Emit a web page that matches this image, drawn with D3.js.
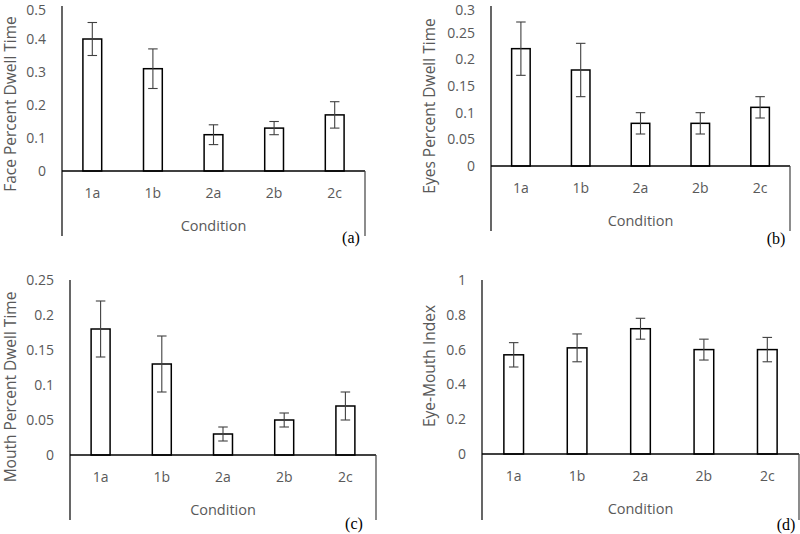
<!DOCTYPE html>
<html>
<head>
<meta charset="utf-8">
<script src="https://cdn.jsdelivr.net/npm/d3@7"></script>
<style>
  html, body { margin: 0; padding: 0; background: #fff; }
  svg { display: block; }
</style>
</head>
<body>
<svg id="chart" width="800" height="534"></svg>
<script>
// ---- data ----
const categories = ["1a", "1b", "2a", "2b", "2c"];

const faceValues = [0.40, 0.31, 0.11, 0.13, 0.17];
const faceErrors = [0.05, 0.06, 0.03, 0.02, 0.04];
const faceTicks = [0, 0.1, 0.2, 0.3, 0.4, 0.5];

const eyesValues = [0.22, 0.18, 0.08, 0.08, 0.11];
const eyesErrors = [0.05, 0.05, 0.02, 0.02, 0.02];
const eyesTicks = [0, 0.05, 0.1, 0.15, 0.2, 0.25, 0.3];

const mouthValues = [0.18, 0.13, 0.03, 0.05, 0.07];
const mouthErrors = [0.04, 0.04, 0.01, 0.01, 0.02];
const mouthTicks = [0, 0.05, 0.1, 0.15, 0.2, 0.25];

const indexValues = [0.57, 0.61, 0.72, 0.60, 0.60];
const indexErrors = [0.07, 0.08, 0.06, 0.06, 0.07];
const indexTicks = [0, 0.2, 0.4, 0.6, 0.8, 1];

const yTitles = ["Face Percent Dwell Time", "Eyes Percent Dwell Time", "Mouth Percent Dwell Time", "Eye-Mouth Index"];
const xTitle = "Condition";
const panelLabels = ["(a)", "(b)", "(c)", "(d)"];

// ---- layout ----
const panels = [
  { values: faceValues, errors: faceErrors, ticks: faceTicks, title: yTitles[0], label: panelLabels[0],
    x0: 62, x1: 365, yTop: 6, yZero: 171, yBottom: 236, titleX: 10, titleY: 104, labelX: 351, labelY: 238 },
  { values: eyesValues, errors: eyesErrors, ticks: eyesTicks, title: yTitles[1], label: panelLabels[1],
    x0: 491, x1: 790, yTop: 6, yZero: 166, yBottom: 231, titleX: 429, titleY: 106, labelX: 776, labelY: 239 },
  { values: mouthValues, errors: mouthErrors, ticks: mouthTicks, title: yTitles[2], label: panelLabels[2],
    x0: 70, x1: 376, yTop: 280, yZero: 455, yBottom: 520, titleX: 10, titleY: 387, labelX: 354, labelY: 524 },
  { values: indexValues, errors: indexErrors, ticks: indexTicks, title: yTitles[3], label: panelLabels[3],
    x0: 482, x1: 799, yTop: 280, yZero: 454, yBottom: 520, titleX: 429, titleY: 366, labelX: 786, labelY: 525 }
];

const textColor = "#595959";
const font = "'Open Sans', 'Noto Sans', sans-serif";
const svg = d3.select("#chart");

panels.forEach(p => {
  const g = svg.append("g");
  const x = d3.scaleBand().domain(categories).range([p.x0, p.x1]).paddingInner(0).paddingOuter(0);
  const y = d3.scaleLinear().domain([0, d3.max(p.ticks)]).range([p.yZero, p.yTop]);
  const bw = x.bandwidth() * 0.31;
  const capW = 9.5;

  // tick labels (kept fully inside the page)
  g.selectAll(".ytick").data(p.ticks).join("text")
    .attr("x", p.x0 - 16)
    .attr("y", d => Math.max(y(d), 10))
    .attr("dy", "0.36em")
    .attr("text-anchor", "end")
    .attr("font-family", font)
    .attr("font-size", 14)
    .attr("fill", textColor)
    .text(d => d3.format("")(+d.toFixed(2)));

  // bars
  g.selectAll(".bar").data(categories).join("rect")
    .attr("x", d => x(d) + x.bandwidth() / 2 - bw / 2)
    .attr("y", (d, i) => y(p.values[i]))
    .attr("width", bw)
    .attr("height", (d, i) => y(0) - y(p.values[i]))
    .attr("fill", "#fff")
    .attr("stroke", "#000")
    .attr("stroke-width", 1.5);

  // error bars
  const eb = g.selectAll(".err").data(categories).join("g")
    .attr("stroke", "#404040").attr("stroke-width", 1.1);
  eb.append("line")
    .attr("x1", d => x(d) + x.bandwidth() / 2).attr("x2", d => x(d) + x.bandwidth() / 2)
    .attr("y1", (d, i) => y(p.values[i] - p.errors[i]))
    .attr("y2", (d, i) => y(p.values[i] + p.errors[i]));
  eb.append("line")
    .attr("x1", d => x(d) + x.bandwidth() / 2 - capW / 2).attr("x2", d => x(d) + x.bandwidth() / 2 + capW / 2)
    .attr("y1", (d, i) => y(p.values[i] + p.errors[i]))
    .attr("y2", (d, i) => y(p.values[i] + p.errors[i]));
  eb.append("line")
    .attr("x1", d => x(d) + x.bandwidth() / 2 - capW / 2).attr("x2", d => x(d) + x.bandwidth() / 2 + capW / 2)
    .attr("y1", (d, i) => y(p.values[i] - p.errors[i]))
    .attr("y2", (d, i) => y(p.values[i] - p.errors[i]));

  // axes lines
  g.append("line").attr("x1", p.x0).attr("x2", p.x0).attr("y1", y(d3.max(p.ticks))).attr("y2", p.yBottom)
    .attr("stroke", "#000").attr("stroke-width", 1.2);
  g.append("line").attr("x1", p.x0).attr("x2", p.x1).attr("y1", y(0)).attr("y2", y(0))
    .attr("stroke", "#000").attr("stroke-width", 1.3);
  g.append("line").attr("x1", p.x1).attr("x2", p.x1).attr("y1", y(0)).attr("y2", p.yBottom)
    .attr("stroke", "#404040").attr("stroke-width", 1.2);

  // category labels
  g.selectAll(".xtick").data(categories).join("text")
    .attr("x", d => x(d) + x.bandwidth() / 2)
    .attr("y", y(0) + 22)
    .attr("dy", "0.36em")
    .attr("text-anchor", "middle")
    .attr("font-family", font)
    .attr("font-size", 14)
    .attr("fill", textColor)
    .text(d => d);

  // x title
  g.append("text")
    .attr("x", (p.x0 + p.x1) / 2)
    .attr("y", y(0) + 54.5)
    .attr("dy", "0.36em")
    .attr("text-anchor", "middle")
    .attr("font-family", font)
    .attr("font-size", 14.5)
    .attr("fill", textColor)
    .text(xTitle);

  // y title
  g.append("text")
    .attr("transform", `translate(${p.titleX},${p.titleY}) rotate(-90)`)
    .attr("dy", "0.36em")
    .attr("text-anchor", "middle")
    .attr("font-family", font)
    .attr("font-size", 15.5)
    .attr("fill", textColor)
    .text(p.title);

  // panel label
  g.append("text")
    .attr("x", p.labelX)
    .attr("y", p.labelY)
    .attr("dy", "0.33em")
    .attr("text-anchor", "middle")
    .attr("font-family", "'Liberation Serif', 'DejaVu Serif', serif")
    .attr("font-size", 16)
    .attr("fill", "#000")
    .text(p.label);
});
</script>
</body>
</html>
